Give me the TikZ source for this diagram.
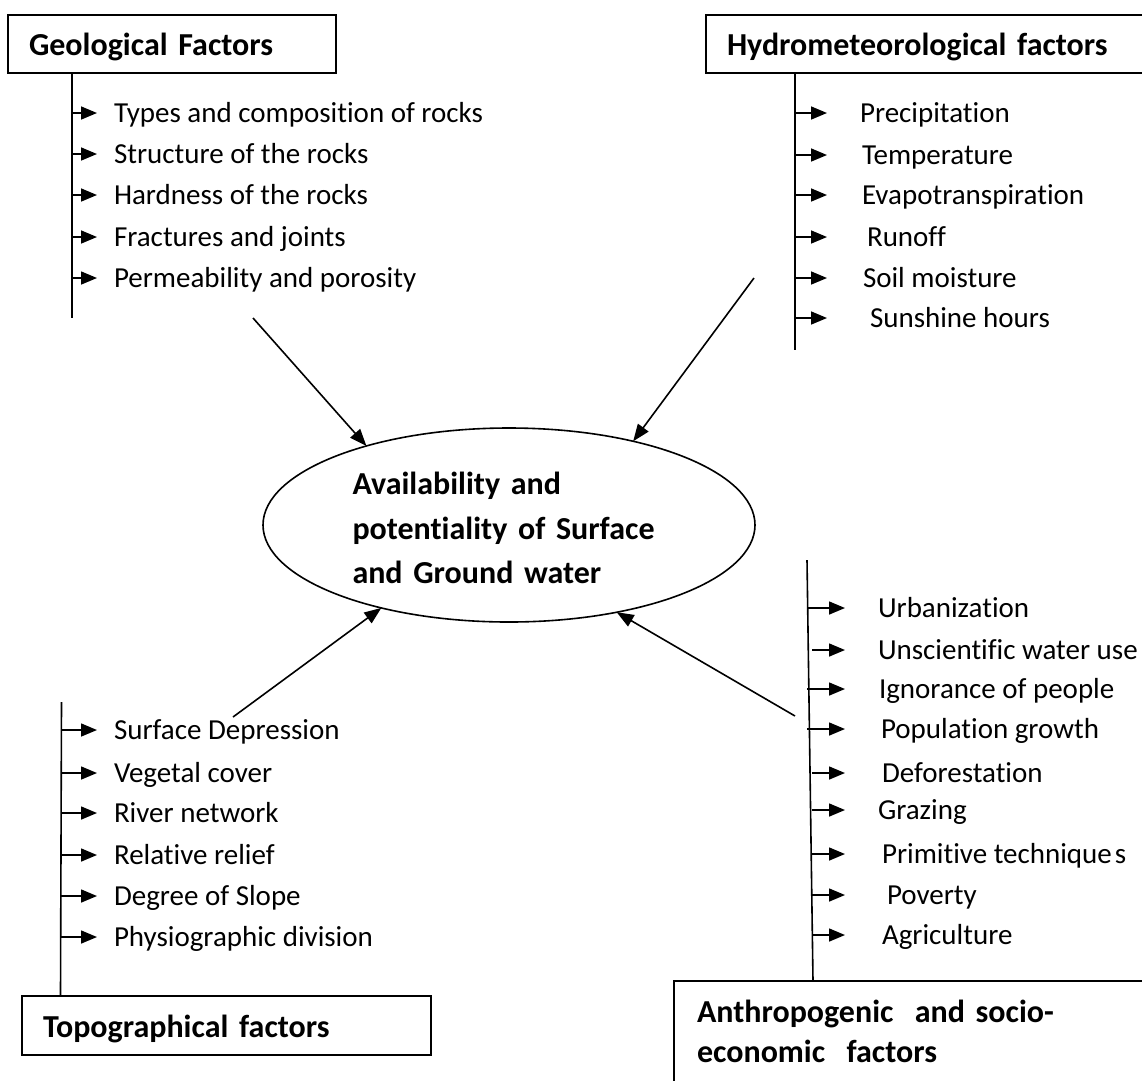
\documentclass[tikz,border=0pt]{standalone}
\usepackage{fontspec}
\setmainfont{Carlito}[Ligatures=NoCommon]
\usetikzlibrary{arrows.meta,shapes.geometric}
\begin{document}
\begin{tikzpicture}[x=1pt,y=-1pt,
  every node/.style={inner sep=0pt, outer sep=0pt},
  spine/.style={line width=1.6pt},
  tick/.style={line width=1.6pt, -{Triangle[length=16pt,width=13pt]}},
  feed/.style={line width=1.6pt, -{Triangle[length=17pt,width=13pt]}},
  item/.style={anchor=base west, font=\fontsize{29}{35}\selectfont},
  titlebox/.style={draw, line width=1.6pt, anchor=north west, align=left,
    font=\fontsize{32}{40}\selectfont\bfseries}
]
\clip (0,0) rectangle (1142,1080);

% ---------- title boxes ----------
\node[titlebox, text height=22pt, text depth=0pt, minimum height=58pt,
      text width=286pt, inner xsep=21pt] (geo) at (8,15) {Geological Factors};
\node[titlebox, text height=22pt, text depth=0pt, minimum height=58pt,
      text width=420pt, inner xsep=21pt] (hyd) at (706,15) {Hydrometeorological factors};
\node[titlebox, text height=23pt, text depth=0pt, minimum height=59pt,
      text width=367pt, inner xsep=21pt] (top) at (22,996) {Topographical factors};
\node[titlebox, text width=440pt, inner xsep=23pt, inner ysep=19pt] (ant) at (674,981)
      {Anthropogenic\ \ and socio-\\economic\ \ factors};

% ---------- central ellipse ----------
\node[ellipse, draw, line width=1.6pt, minimum width=492pt, minimum height=194pt,
      text width=313pt, align=left, font=\fontsize{32}{44.5}\selectfont\bfseries]
      (hub) at (509,525) {\rule{0pt}{29pt}Availability and\\potentiality of Surface\\and Ground water};

% ---------- spines ----------
\coordinate (gA) at (72,73);    \coordinate (gB) at (72,318);
\coordinate (hA) at (795,73);   \coordinate (hB) at (795,350);
\coordinate (tA) at (61.5,702); \coordinate (tB) at (60.5,996);
\coordinate (aA) at (807,560);  \coordinate (aB) at (813,981);
\draw[spine] (gA) -- (gB);
\draw[spine] (hA) -- (hB);
\draw[spine] (tA) -- (tB);
\draw[spine] (aA) -- (aB);

% ---------- geological items ----------
\foreach \y/\t [count=\i] in {113/{Types and composition of rocks},
    154/{Structure of the rocks}, 195/{Hardness of the rocks},
    237/{Fractures and joints}, 278/{Permeability and porosity}} {
  \coordinate (gs\i) at (72,\y);
  \coordinate (ge\i) at (97,\y);
  \draw[tick] (gs\i) -- (ge\i);
  \node[item] (gi\i) at (114,\y+9) {\t};
}

% ---------- hydrometeorological items ----------
\foreach \y/\x/\t [count=\i] in {113/860/{Precipitation}, 155/862/{Temperature},
    195/862/{Evapotranspiration}, 237/867/{Runoff}, 278/863/{Soil moisture},
    318/870/{Sunshine hours}} {
  \coordinate (hs\i) at (795,\y);
  \coordinate (he\i) at (827,\y);
  \draw[tick] (hs\i) -- (he\i);
  \node[item] (hi\i) at (\x,\y+9) {\t};
}

% ---------- topographical items ----------
\foreach \y/\t [count=\i] in {730/{Surface Depression}, 773/{Vegetal cover},
    813/{River network}, 855/{Relative relief}, 896/{Degree of Slope},
    937/{Physiographic division}} {
  \coordinate (ts\i) at (61,\y);
  \coordinate (te\i) at (97,\y);
  \draw[tick] (ts\i) -- (te\i);
  \node[item] (ti\i) at (114,\y+9) {\t};
}

% ---------- anthropogenic items ----------
\foreach \s/\y/\x/\t [count=\i] in {807/608/878/{Urbanization},
    812/650/878/{Unscientific water use}, 807/689/879/{Ignorance of people},
    807/729/881/{Population growth}, 812/773/882/{Deforestation},
    812/810/878/{Grazing}, 812/854/882/{Primitive technique\kern3pt s},
    812/895/887/{Poverty}, 812/935/882/{Agriculture}} {
  \coordinate (as\i) at (\s,\y);
  \coordinate (ae\i) at (845,\y);
  \draw[tick] (as\i) -- (ae\i);
  \node[item] (ai\i) at (\x,\y+9) {\t};
}

% ---------- connectors to the centre ----------
\coordinate (geoTail) at (253,318);
\coordinate (hydTail) at (754,278);
\coordinate (topTail) at (233,717);
\coordinate (antTail) at (795,716);
\draw[feed] (geoTail) -- (hub.151.9);
\draw[feed] (hydTail) -- (hub.34.6);
\draw[feed] (topTail) -- (hub.213);
\draw[feed] (antTail) -- (hub.321.7);
\end{tikzpicture}
\end{document}
